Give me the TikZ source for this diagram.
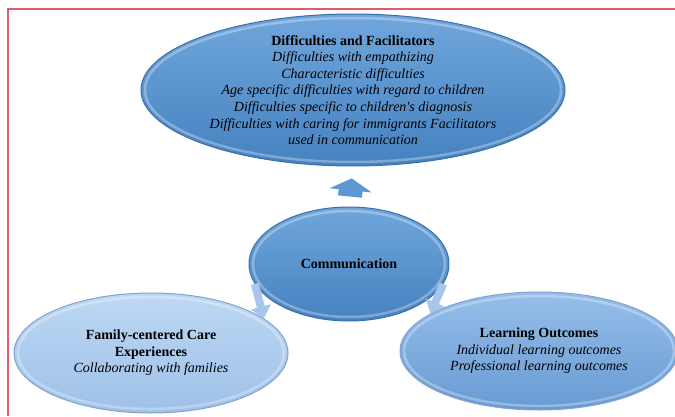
\documentclass[tikz,border=0pt]{standalone}
\usepackage{fontspec}
\setmainfont{Liberation Serif}
\usetikzlibrary{shapes.geometric,arrows.meta}

\definecolor{rimred}{RGB}{222,92,112}
\definecolor{bluetop}{RGB}{112,166,220}
\definecolor{bluebot}{RGB}{70,130,192}
\definecolor{blueedge}{RGB}{58,112,170}
\definecolor{paletop}{RGB}{190,216,244}
\definecolor{palebot}{RGB}{158,192,232}
\definecolor{paleedge}{RGB}{128,164,208}
\definecolor{midtop}{RGB}{150,190,234}
\definecolor{midbot}{RGB}{104,154,210}
\definecolor{arrowblue}{RGB}{92,152,210}
\definecolor{arrowpale}{RGB}{168,198,236}

\begin{document}
\begin{tikzpicture}[x=1pt,y=1pt,
    bubble/.style 2 args={ellipse,inner sep=0pt,line width=1pt,
      minimum width=#1,minimum height=#2,
      path picture={\draw[white,opacity=.3,line width=2.5pt]
        (path picture bounding box.center) ellipse [x radius=#1/2-4pt,y radius=#2/2-4pt];}},
    darkbubble/.style={top color=bluetop,bottom color=bluebot,draw=blueedge},
    palebubble/.style={top color=paletop,bottom color=palebot,draw=paleedge},
    midbubble/.style={top color=midtop,bottom color=midbot,draw=paleedge},
    txt/.style={align=center,font=\fontsize{14}{16.6}\selectfont},
    uparrow/.style={draw=arrowblue,line width=24pt,-{Triangle[width=42pt,length=12pt]},shorten <=10pt,shorten >=12pt},
    sidearrow/.style={draw=arrowpale,line width=8pt,-{Triangle[width=20pt,length=12pt]}}]
    \useasboundingbox (0,0) rectangle (675,416);

    % frame
    \draw[rimred,line width=1.3pt] (8,0) -- (8,407) -- (675,407);

    % bubbles
    \node[bubble={424pt}{152pt},darkbubble] (diff) at (353,326) {};
    \node[bubble={200pt}{114pt},darkbubble] (comm) at (349,152) {};
    \node[bubble={274pt}{120pt},palebubble] (fam) at (151,63) {};
    \node[bubble={278pt}{118pt},midbubble] (learn) at (539,65) {};

    \node[txt] (difftext) at (diff) {\textbf{Difficulties and Facilitators}\\
      \textit{Difficulties with empathizing}\\
      \textit{Characteristic difficulties}\\
      \textit{Age specific difficulties with regard to children}\\
      \textit{Difficulties specific to children\textquotesingle s diagnosis}\\
      \textit{Difficulties with caring for immigrants Facilitators}\\
      \textit{used in communication}};
    \node[txt] (commtext) at (comm) {\textbf{Communication}};
    \node[txt] (famtext) at (fam) {\textbf{Family-centered Care}\\
      \textbf{Experiences}\\
      \textit{Collaborating with families}};
    \node[txt] (learntext) at (learn) {\textbf{Learning Outcomes}\\
      \textit{Individual learning outcomes}\\
      \textit{Professional learning outcomes}};

    % arrows out of the centre
    \draw[uparrow] (comm.north) -- (diff.south);
    \draw[sidearrow] (comm.192) -- (fam.17);
    \draw[sidearrow] (comm.-12) -- (learn.161);
\end{tikzpicture}
\end{document}
